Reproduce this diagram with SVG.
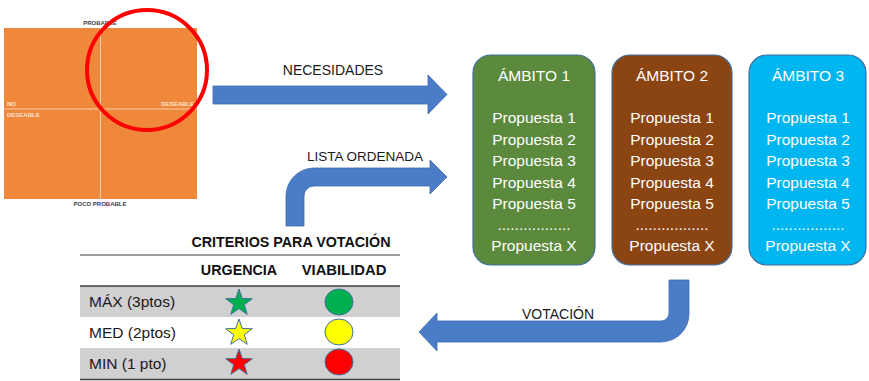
<svg xmlns="http://www.w3.org/2000/svg" width="869" height="381" viewBox="0 0 869 381">
<style>
  text { font-family: "Liberation Sans", Arial, sans-serif; }
  .q { font-size: 6px; font-weight: bold; }
  .qw { fill: #FBE5D6; }
  .qd { fill: #404040; }
  .arrow { fill: #4A7CC8; stroke: #3F6BB0; stroke-width: 0.8; }
  .lbl { font-size: 14px; fill: #1a1a1a; text-anchor: middle; }
  .box { stroke: #41719C; stroke-width: 1.2; }
  .bt { fill: #ffffff; font-size: 15.5px; text-anchor: middle; }
  .th { font-size: 14.3px; font-weight: bold; fill: #111111; text-anchor: middle; }
  .row { font-size: 15.5px; fill: #1a1a1a; }
  .mk { stroke: #41719C; stroke-width: 1; }
</style>
<defs>
  <polygon id="star" points="0,-14 3.3,-4.5 13.3,-4.3 5.3,1.7 8.2,11.3 0,5.6 -8.2,11.3 -5.3,1.7 -13.3,-4.3 -3.3,-4.5"/>
</defs>
<rect width="869" height="381" fill="#ffffff"/>

<g id="matrix">
  <rect x="4" y="28" width="193" height="171" fill="#EF883B"/>
  <line x1="100.5" y1="28" x2="100.5" y2="199" stroke="#F8CBAD" stroke-width="1"/>
  <line x1="4" y1="109" x2="197" y2="109" stroke="#F8CBAD" stroke-width="1"/>
  <text class="q qd" x="100" y="25" text-anchor="middle">PROBABLE</text>
  <text class="q qd" x="100" y="206" text-anchor="middle">POCO PROBABLE</text>
  <text class="q qw" x="7" y="106">NO</text>
  <text class="q qw" x="7" y="117">DESEABLE</text>
  <text class="q qw" x="194" y="106" text-anchor="end">DESEABLE</text>
  <circle cx="147" cy="70" r="60" fill="none" stroke="#FF0000" stroke-width="4"/>
</g>

<g id="connectors">
  <g id="arrow-necesidades">
    <polygon class="arrow" points="213,86 428,86 428,75 447,94.5 428,114 428,104 213,104"/>
    <text class="lbl" x="333" y="75">NECESIDADES</text>
  </g>
  <g id="arrow-lista">
    <path class="arrow" d="M286,226 L286,196 A28,28 0 0 1 314,168 L430,168 L430,160 L447,177 L430,194 L430,186 L314,186 A10,10 0 0 0 304,196 L304,226 Z"/>
    <text class="lbl" x="365" y="161" style="font-size:13.5px">LISTA ORDENADA</text>
  </g>
  <g id="arrow-votacion">
    <path class="arrow" d="M669,280 L689,280 L689,314 A28,28 0 0 1 661,342 L437,342 L437,351 L419,332 L437,313 L437,321 L661,321 A8,8 0 0 0 669,313 Z"/>
    <text class="lbl" x="558" y="319">VOTACIÓN</text>
  </g>
</g>

<g id="ambito1">
  <rect class="box" x="473" y="55" width="122" height="210" rx="18" fill="#5B8A3C"/>
  <text class="bt" x="534" y="81">ÁMBITO 1</text>
  <text class="bt" x="534" y="123">Propuesta 1</text>
  <text class="bt" x="534" y="144.5">Propuesta 2</text>
  <text class="bt" x="534" y="166">Propuesta 3</text>
  <text class="bt" x="534" y="187.5">Propuesta 4</text>
  <text class="bt" x="534" y="209">Propuesta 5</text>
  <text class="bt" x="534" y="230">.................</text>
  <text class="bt" x="534" y="251">Propuesta X</text>
</g>

<g id="ambito2">
  <rect class="box" x="612" y="55" width="120" height="210" rx="18" fill="#8B4513"/>
  <text class="bt" x="672" y="81">ÁMBITO 2</text>
  <text class="bt" x="672" y="123">Propuesta 1</text>
  <text class="bt" x="672" y="144.5">Propuesta 2</text>
  <text class="bt" x="672" y="166">Propuesta 3</text>
  <text class="bt" x="672" y="187.5">Propuesta 4</text>
  <text class="bt" x="672" y="209">Propuesta 5</text>
  <text class="bt" x="672" y="230">.................</text>
  <text class="bt" x="672" y="251">Propuesta X</text>
</g>

<g id="ambito3">
  <rect class="box" x="749" y="55" width="117" height="210" rx="18" fill="#00B6F0"/>
  <text class="bt" x="808" y="81">ÁMBITO 3</text>
  <text class="bt" x="808" y="123">Propuesta 1</text>
  <text class="bt" x="808" y="144.5">Propuesta 2</text>
  <text class="bt" x="808" y="166">Propuesta 3</text>
  <text class="bt" x="808" y="187.5">Propuesta 4</text>
  <text class="bt" x="808" y="209">Propuesta 5</text>
  <text class="bt" x="808" y="230">.................</text>
  <text class="bt" x="808" y="251">Propuesta X</text>
</g>

<g id="criterios">
  <text class="th" x="291" y="247">CRITERIOS PARA VOTACIÓN</text>
  <line x1="80" y1="255" x2="400" y2="255" stroke="#7F7F7F" stroke-width="1.5"/>
  <text class="th" x="239" y="275">URGENCIA</text>
  <text class="th" x="344" y="275" style="font-size:14.8px">VIABILIDAD</text>
  <rect x="80" y="286" width="320" height="31" fill="#D0D0D0"/>
  <rect x="80" y="348" width="320" height="31" fill="#D0D0D0"/>
  <line x1="80" y1="286" x2="400" y2="286" stroke="#404040" stroke-width="1.5"/>
  <line x1="80" y1="379.5" x2="400" y2="379.5" stroke="#404040" stroke-width="1.5"/>
  <text class="row" x="89" y="307">MÁX (3ptos)</text>
  <text class="row" x="89" y="338">MED (2ptos)</text>
  <text class="row" x="89" y="369">MIN (1 pto)</text>
  <use href="#star" x="239" y="303" class="mk" fill="#00B050"/>
  <use href="#star" x="239" y="333" class="mk" fill="#FFFF00"/>
  <use href="#star" x="239" y="363" class="mk" fill="#FF0000"/>
  <ellipse class="mk" cx="339" cy="302" rx="14" ry="13" fill="#00B050"/>
  <ellipse class="mk" cx="339" cy="332" rx="14" ry="13" fill="#FFFF00"/>
  <ellipse class="mk" cx="339" cy="362" rx="14" ry="13" fill="#FF0000"/>
</g>
</svg>
